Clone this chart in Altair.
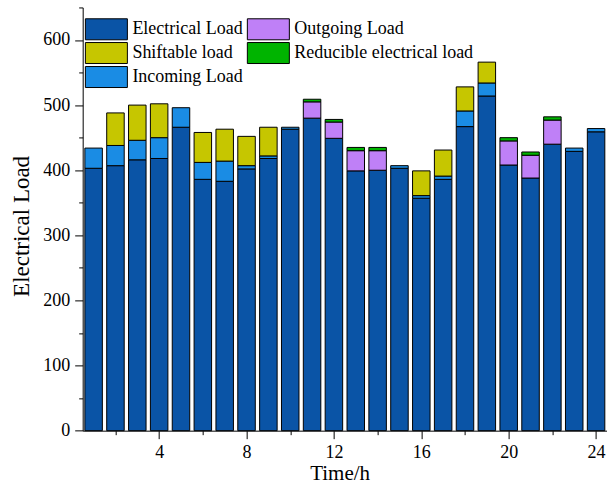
import altair as alt
import pandas as pd

# ---- data ----
hours = list(range(1, 25))
electrical = [403, 407, 416, 418, 466, 386, 383, 402, 418, 463, 480, 449,
              399, 400, 403, 357, 386, 467, 514, 408, 388, 440, 429, 459]
incoming = [31, 31, 30, 32, 30, 26, 31, 5, 4, 3, 0, 0,
            0, 0, 4, 4, 5, 24, 20, 0, 0, 0, 5, 5]
outgoing = [0, 0, 0, 0, 0, 0, 0, 0, 0, 0, 25, 25,
            31, 30, 0, 0, 0, 0, 0, 37, 35, 37, 0, 0]
shiftable = [0, 50, 54, 52, 0, 46, 49, 45, 44, 0, 0, 0,
             0, 0, 0, 38, 40, 37, 32, 0, 0, 0, 0, 0]
reducible = [0, 0, 0, 0, 0, 0, 0, 0, 0, 0, 4, 4,
             5, 5, 0, 0, 0, 0, 0, 5, 5, 5, 0, 0]

# stacking order bottom -> top
series_stack = ["Electrical Load", "Incoming Load", "Outgoing Load",
                "Shiftable load", "Reducible electrical load"]
series_values = [electrical, incoming, outgoing, shiftable, reducible]

# legend order (2 columns, filled column by column)
legend_order = ["Electrical Load", "Shiftable load", "Incoming Load",
                "Outgoing Load", "Reducible electrical load"]
legend_colors = ["#0a54a6", "#c6c600", "#1a8ce4", "#bf80f7", "#00b400"]

x_major = [4, 8, 12, 16, 20, 24]
x_minor = [2, 6, 10, 14, 18, 22]
y_major = [0, 100, 200, 300, 400, 500, 600]
y_minor = [50, 150, 250, 350, 450, 550, 650]

rows = []
for rank, (name, vals) in enumerate(zip(series_stack, series_values)):
    for h, v in zip(hours, vals):
        if v > 0:
            rows.append({"hour": h, "series": name, "value": v, "rank": rank})
df = pd.DataFrame(rows)

FONT = "Liberation Serif"

bars = alt.Chart(df).mark_bar(
    size=17.5, stroke="#000000", strokeWidth=1, opacity=1
).encode(
    x=alt.X("hour:Q",
            scale=alt.Scale(domain=[0.5, 24.5], nice=False, zero=False,
                            padding=0),
            axis=alt.Axis(values=x_major, title="Time/h", format="d",
                          tickSize=8, labelPadding=5, titlePadding=1,
                          titleFontSize=21, titleX=257, grid=False,
                          orient="bottom")),
    y=alt.Y("value:Q", stack="zero",
            scale=alt.Scale(domain=[0, 650], nice=False),
            axis=alt.Axis(values=y_major, title="Electrical Load", format="d",
                          tickSize=8, labelPadding=5, titlePadding=9,
                          titleFontSize=23, titleY=218.5, grid=False,
                          orient="left")),
    color=alt.Color("series:N",
                    scale=alt.Scale(domain=legend_order, range=legend_colors),
                    legend=alt.Legend(
                        title=None, orient="none", legendX=12.7, legendY=10.6,
                        columns=2, symbolType="M-2,-1L2,-1L2,1L-2,1Z",
                        symbolSize=441, symbolStrokeColor="#000000",
                        symbolStrokeWidth=1, symbolOpacity=1,
                        labelFont=FONT, labelFontSize=18, labelColor="#000000",
                        labelOffset=15, rowPadding=-2.5, columnPadding=2,
                        padding=0, labelLimit=300)),
    order=alt.Order("rank:Q", sort="ascending"),
)

minor = alt.Chart(df).mark_point(opacity=0).encode(
    x=alt.X("hour:Q",
            axis=alt.Axis(values=x_minor, labels=False, domain=False,
                          tickSize=4, title=None, grid=False, orient="bottom")),
    y=alt.Y("value:Q",
            axis=alt.Axis(values=y_minor, labels=False, domain=False,
                          tickSize=4, title=None, grid=False, orient="left")),
)

chart = alt.layer(bars, minor).resolve_axis(
    x="independent", y="independent"
).properties(
    width=524.4, height=423.3,
    padding={"left": 82.7, "top": 7.4, "right": 0, "bottom": 55.3},
    autosize=alt.AutoSizeParams(type="none"),
    background="white",
).configure_view(
    strokeWidth=0
).configure_axis(
    domainColor="#000000", domainWidth=1, tickColor="#000000", tickWidth=1,
    labelColor="#000000", titleColor="#000000", labelFont=FONT,
    titleFont=FONT, labelFontSize=18, titleFontWeight="normal",
)

chart.save("out.html", embed_options={"renderer": "svg", "actions": False})
